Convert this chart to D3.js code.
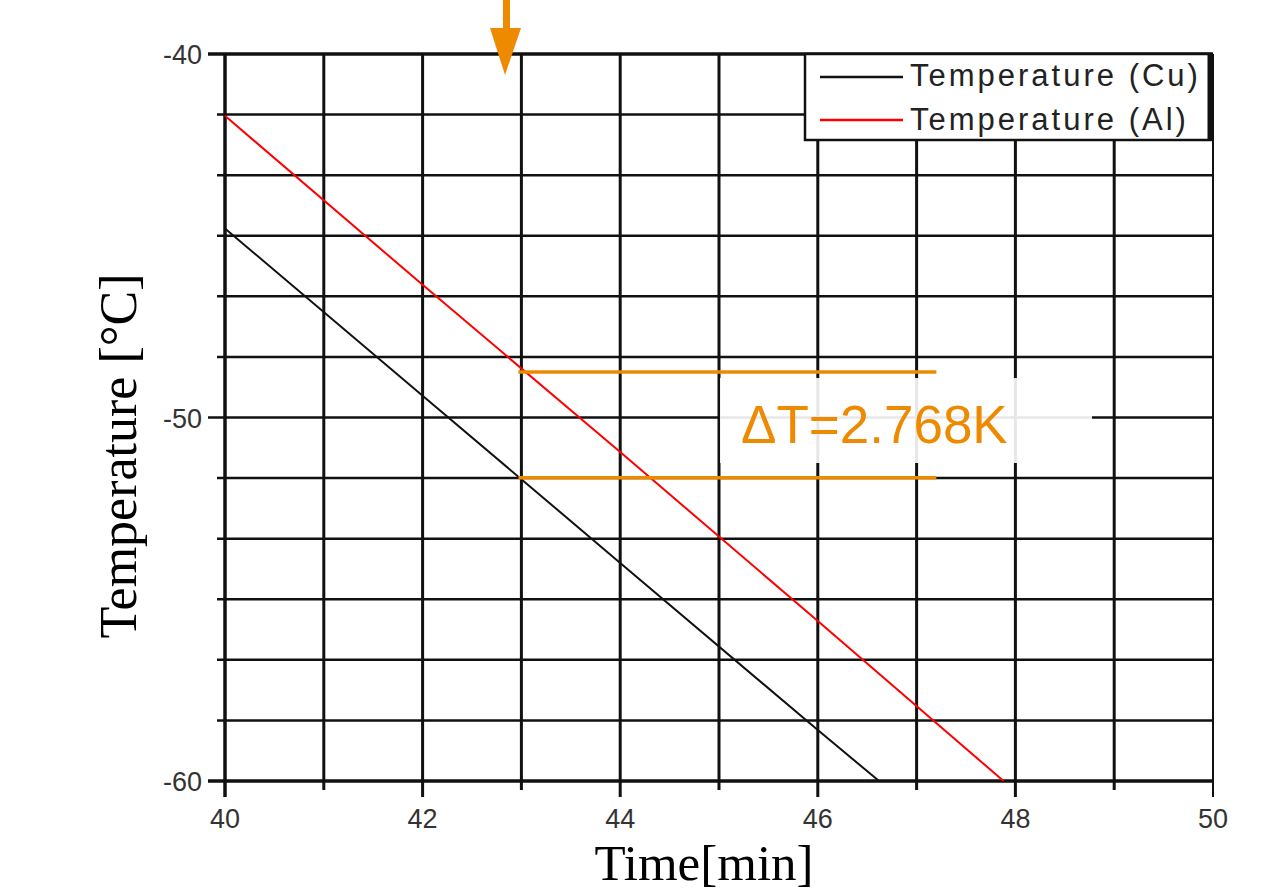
<!DOCTYPE html>
<html>
<head>
<meta charset="utf-8">
<script src="https://cdn.jsdelivr.net/npm/d3@7"></script>
<style>
  body { margin: 0; background: #fff; }
  svg { display: block; }
</style>
</head>
<body>
<div id="chart"></div>
<script>
// data
const timeCu = [40, 42, 44, 46, 46.62];
const tempCu = [-44.8, -49.4, -54.0, -58.6, -60];
const timeAl = [40, 42, 44, 46, 47.88];
const tempAl = [-41.7, -46.35, -50.95, -55.6, -60];
const xTicks = [40, 42, 44, 46, 48, 50];
const yTicks = [-40, -50, -60];
const seriesNames = ["Temperature (Cu)", "Temperature (Al)"];
const markTime = 43;
const markTop = -48.75;
const markBottom = -51.66;
const markEnd = 47.2;
const deltaLabel = "ΔT=2.768K";

(function () {
  const width = 1261;
  const height = 891;
  const orange = "#ee8a00";

  const svg = d3.select("#chart").append("svg")
    .attr("width", width).attr("height", height);

  const x = d3.scaleLinear().domain([40, 50]).range([225, 1213]);
  const y = d3.scaleLinear().domain([-40, -60]).range([54, 781]);

  const xGrid = d3.range(40, 51);
  const yGrid = d3.range(0, 13).map((k) => -40 - (k * 20) / 12);

  // grid
  svg.append("g")
    .selectAll("line")
    .data(yGrid)
    .enter()
    .append("line")
    .attr("x1", (d) => (yTicks.includes(Math.round(d * 100) / 100) ? 208 : 217))
    .attr("x2", x(50))
    .attr("y1", (d) => y(d))
    .attr("y2", (d) => y(d))
    .attr("stroke", "#111")
    .attr("stroke-width", (d, i) => (i === 0 || i === 12 ? 3.5 : 2.5));

  svg.append("g")
    .selectAll("line")
    .data(xGrid)
    .enter()
    .append("line")
    .attr("x1", (d) => x(d))
    .attr("x2", (d) => x(d))
    .attr("y1", y(-40))
    .attr("y2", (d) => y(-60) + (xTicks.includes(d) ? 16 : 9))
    .attr("stroke", "#111")
    .attr("stroke-width", (d) => (d === 40 ? 3.5 : d === 50 ? 2 : 3));

  // tick labels
  svg.append("g")
    .selectAll("text")
    .data(xTicks)
    .enter()
    .append("text")
    .attr("x", (d) => x(d))
    .attr("y", 828)
    .attr("text-anchor", "middle")
    .style("font-family", "Arial, 'Liberation Sans', sans-serif")
    .style("font-size", "27px")
    .style("fill", "#333")
    .text((d) => d);

  svg.append("g")
    .selectAll("text")
    .data(yTicks)
    .enter()
    .append("text")
    .attr("x", 202)
    .attr("y", (d) => y(d) + 10)
    .attr("text-anchor", "end")
    .style("font-family", "Arial, 'Liberation Sans', sans-serif")
    .style("font-size", "27px")
    .style("fill", "#333")
    .text((d) => d);

  // axis titles
  svg.append("text")
    .attr("x", 704)
    .attr("y", 880)
    .attr("text-anchor", "middle")
    .style("font-family", "'Times New Roman', 'Liberation Serif', serif")
    .style("font-size", "51px")
    .style("fill", "#000")
    .text("Time[min]");

  svg.append("text")
    .attr("transform", "translate(136, 456) rotate(-90)")
    .attr("text-anchor", "middle")
    .style("font-family", "'Times New Roman', 'Liberation Serif', serif")
    .style("font-size", "52px")
    .style("fill", "#000")
    .text("Temperature [°C]");

  // series
  const line = d3.line()
    .x((d) => x(d[0]))
    .y((d) => y(d[1]));

  svg.append("path")
    .datum(d3.zip(timeCu, tempCu))
    .attr("d", line)
    .attr("fill", "none")
    .attr("stroke", "#111")
    .attr("stroke-width", 2);

  svg.append("path")
    .datum(d3.zip(timeAl, tempAl))
    .attr("d", line)
    .attr("fill", "none")
    .attr("stroke", "#ff0000")
    .attr("stroke-width", 2);

  // faded box behind the label
  svg.append("rect")
    .attr("x", 720)
    .attr("y", 378)
    .attr("width", 372)
    .attr("height", 85)
    .attr("fill", "#fff")
    .attr("opacity", 0.9);

  // delta T markers
  svg.append("g")
    .selectAll("line")
    .data([markTop, markBottom])
    .enter()
    .append("line")
    .attr("x1", x(markTime) - 3)
    .attr("x2", x(markEnd))
    .attr("y1", (d) => y(d))
    .attr("y2", (d) => y(d))
    .attr("stroke", orange)
    .attr("stroke-width", 3.5);

  svg.append("text")
    .attr("x", 741)
    .attr("y", 443)
    .style("font-family", "Arial, 'Liberation Sans', sans-serif")
    .style("font-size", "53px")
    .style("fill", orange)
    .text(deltaLabel);

  // arrow at the top
  svg.append("rect")
    .attr("x", 503)
    .attr("y", 0)
    .attr("width", 7)
    .attr("height", 30)
    .attr("fill", orange);
  svg.append("path")
    .attr("d", "M490,28 L521,28 L505,75 Z")
    .attr("fill", orange);

  // legend
  const legend = svg.append("g");
  legend.append("rect")
    .attr("x", 805)
    .attr("y", 54)
    .attr("width", 405)
    .attr("height", 86)
    .attr("fill", "#fff")
    .attr("stroke", "#111")
    .attr("stroke-width", 2.5);
  legend.append("line")
    .attr("x1", 1210).attr("x2", 1210)
    .attr("y1", 53).attr("y2", 141)
    .attr("stroke", "#111")
    .attr("stroke-width", 5);

  const colors = ["#111", "#ff0000"];
  legend.selectAll(".sample")
    .data(seriesNames)
    .enter()
    .append("line")
    .attr("x1", 820)
    .attr("x2", 903)
    .attr("y1", (d, i) => 77 + i * 43)
    .attr("y2", (d, i) => 77 + i * 43)
    .attr("stroke", (d, i) => colors[i])
    .attr("stroke-width", 2.5);

  legend.selectAll(".label")
    .data(seriesNames)
    .enter()
    .append("text")
    .attr("x", 910)
    .attr("y", (d, i) => 86 + i * 44)
    .style("font-family", "Arial, 'Liberation Sans', sans-serif")
    .style("font-size", "31px")
    .style("letter-spacing", "3px")
    .style("fill", "#222")
    .text((d) => d);
})();
</script>
</body>
</html>
